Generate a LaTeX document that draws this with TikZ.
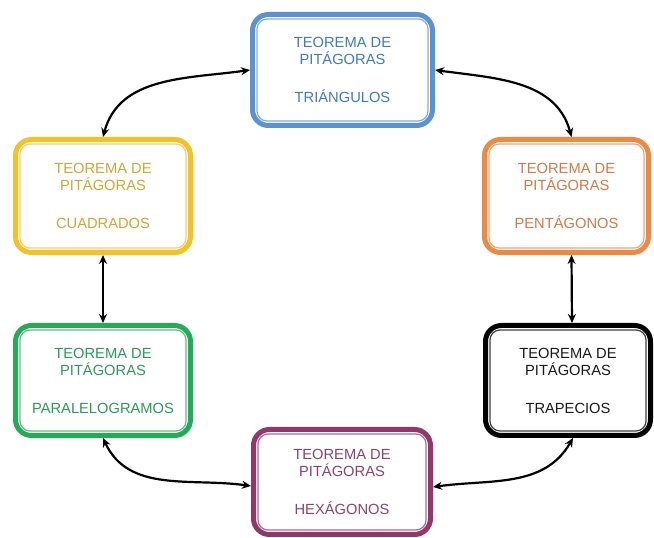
\documentclass[tikz,border=0pt]{standalone}
\usepackage{fontspec}
\setmainfont{Liberation Sans}
\usetikzlibrary{arrows.meta}
\definecolor{cblue}{HTML}{5A93CF}
\definecolor{tblue}{HTML}{3F7CB8}
\definecolor{cyel}{HTML}{F2C22A}
\definecolor{tyel}{HTML}{CFA638}
\definecolor{cora}{HTML}{EC8A45}
\definecolor{tora}{HTML}{D27B45}
\definecolor{cgre}{HTML}{25AA58}
\definecolor{tgre}{HTML}{2E9A58}
\definecolor{cblk}{HTML}{000000}
\definecolor{tblk}{HTML}{1A1A1A}
\definecolor{cpur}{HTML}{913769}
\definecolor{tpur}{HTML}{8A4470}
\tikzset{
  box/.style={draw=#1, line width=5pt, rounded corners=16pt, align=center,
    font=\fontsize{14.7}{17}\selectfont, fill=white},
  innerline/.style={draw=#1!75, line width=1.2pt, rounded corners=10pt},
  conn/.style={line width=2.2pt, {Stealth[length=9pt,width=8pt]}-{Stealth[length=9pt,width=8pt]}},
}
\newcommand\mkbox[8]{%
  \node[box=#6, text=#7, minimum width=#4pt-5pt, minimum height=#5pt-5pt] (#1) at (#2,#3) {#8};
  \draw[innerline=#6] ([shift={(7,-7)}]#1.north west) rectangle ([shift={(-7,7)}]#1.south east);
}
\begin{document}
\begin{tikzpicture}[x=1pt,y=1pt]
\useasboundingbox (0,0) rectangle (654,538);
\mkbox{T}{342.5}{468}{185}{116}{cblue}{tblue}{TEOREMA DE\\PITÁGORAS\\[21pt]TRIÁNGULOS}
\mkbox{Y}{103}{342}{180}{118}{cyel}{tyel}{TEOREMA DE\\PITÁGORAS\\[21pt]CUADRADOS}
\mkbox{O}{566.5}{342}{169}{118}{cora}{tora}{TEOREMA DE\\PITÁGORAS\\[21pt]PENTÁGONOS}
\mkbox{G}{103}{157.5}{180}{115}{cgre}{tgre}{TEOREMA DE\\PITÁGORAS\\[21pt]PARALELOGRAMOS}
\mkbox{K}{568}{157.5}{170}{115}{cblk}{tblk}{TEOREMA DE\\PITÁGORAS\\[21pt]TRAPECIOS}
\mkbox{P}{342}{56}{182}{110}{cpur}{tpur}{TEOREMA DE\\PITÁGORAS\\[21pt]HEXÁGONOS}
\draw[conn] (T.west) to[out=188,in=75] (Y.north);
\draw[conn] (T.east) to[out=-8,in=105] ([xshift=5pt]O.north);
\draw[conn] (Y.south) -- (G.north);
\draw[conn] ([xshift=5pt]O.south) -- ([xshift=4pt]K.north);
\draw[conn] (G.south) to[out=-65,in=172] ([yshift=-4pt]P.west);
\draw[conn] ([xshift=5pt]K.south) to[out=-120,in=8] ([yshift=-5pt]P.east);
\end{tikzpicture}
\end{document}
